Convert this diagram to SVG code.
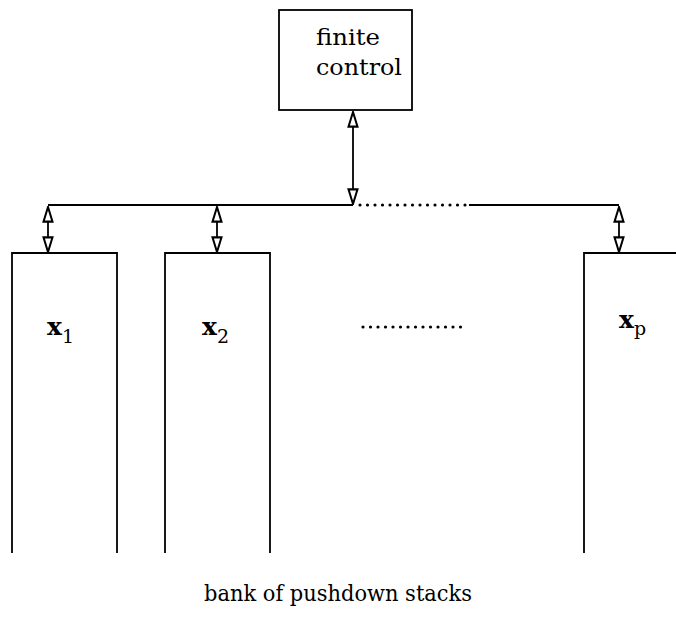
<svg xmlns="http://www.w3.org/2000/svg" width="676" height="620" viewBox="0 0 676 620">
<defs>
<style>
.ln{stroke:#000;stroke-width:1.8;fill:none}
.dot{stroke:#000;stroke-width:3.2;fill:none;stroke-linecap:round;stroke-dasharray:0 7.5}
.t{font-family:"DejaVu Serif","Liberation Serif",serif;fill:#000}
.lbl{font-family:"DejaVu Serif","Liberation Serif",serif;font-weight:bold;fill:#000}
.sub{font-weight:normal}
</style>
<marker id="ah" markerWidth="18" markerHeight="12" refX="15" refY="5" orient="auto-start-reverse" markerUnits="userSpaceOnUse" viewBox="0 0 16 10">
<path d="M15,5 L2,1 L2,9 Z" fill="#fff" stroke="#000" stroke-width="1.8"/>
</marker>
</defs>
<rect width="676" height="620" fill="#fff"/>
<g id="finite-control">
<rect x="279" y="10" width="133" height="100" class="ln"/>
<text class="t" x="316" y="45" font-size="23" textLength="64" lengthAdjust="spacingAndGlyphs">finite</text>
<text class="t" x="316" y="75" font-size="23" textLength="86" lengthAdjust="spacingAndGlyphs">control</text>
</g>
<g id="stack-1">
<polyline class="ln" points="12,553 12,253 117,253 117,553"/>
<text class="lbl" x="47" y="335" font-size="25">x<tspan class="sub" font-size="19" dy="8">1</tspan></text>
</g>
<g id="stack-2">
<polyline class="ln" points="165,553 165,253 270,253 270,553"/>
<text class="lbl" x="202" y="335" font-size="25">x<tspan class="sub" font-size="19" dy="8">2</tspan></text>
</g>
<g id="stack-p">
<polyline class="ln" points="584,553 584,253 676,253"/>
<text class="lbl" x="619" y="328" font-size="25">x<tspan class="sub" font-size="19" dy="7">p</tspan></text>
</g>
<g id="dots-middle">
<line class="dot" x1="363" y1="327" x2="467" y2="327"/>
</g>
<g id="connectors">
<polyline class="ln" points="48,205 353,205"/>
<line class="dot" x1="360" y1="205" x2="467" y2="205"/>
<polyline class="ln" points="469,205 619,205"/>
<line class="ln" x1="353" y1="112" x2="353" y2="204" marker-start="url(#ah)" marker-end="url(#ah)"/>
<line class="ln" x1="48" y1="207" x2="48" y2="224" marker-start="url(#ah)"/>
<line class="ln" x1="48" y1="232" x2="48" y2="252" marker-end="url(#ah)"/>
<line class="ln" x1="48" y1="224" x2="48" y2="232"/>
<line class="ln" x1="217" y1="207" x2="217" y2="224" marker-start="url(#ah)"/>
<line class="ln" x1="217" y1="232" x2="217" y2="252" marker-end="url(#ah)"/>
<line class="ln" x1="217" y1="224" x2="217" y2="232"/>
<line class="ln" x1="619" y1="207" x2="619" y2="224" marker-start="url(#ah)"/>
<line class="ln" x1="619" y1="232" x2="619" y2="252" marker-end="url(#ah)"/>
<line class="ln" x1="619" y1="224" x2="619" y2="232"/>
</g>
<text class="t" x="204" y="601" font-size="23" textLength="268" lengthAdjust="spacingAndGlyphs">bank of pushdown stacks</text>
</svg>
